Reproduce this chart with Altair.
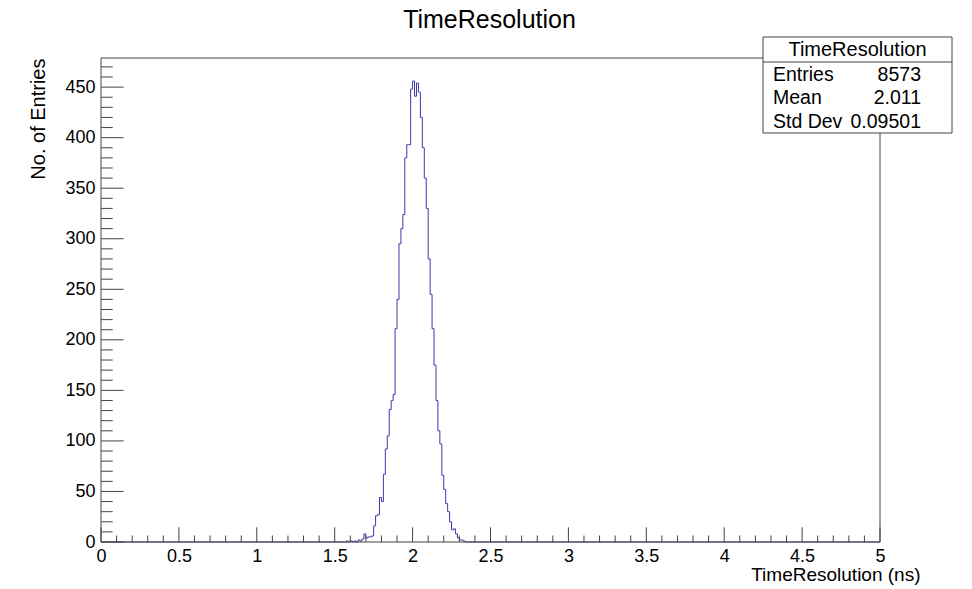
import altair as alt
import pandas as pd

# ---------------- data ----------------
BIN_WIDTH = 0.0125          # 400 bins on [0, 5]
N_BINS = 400
FIRST_BIN = 126             # index of first listed bin (x = 1.575)
counts = [1, 0, 1, 0, 1, 0, 2, 1,                       # 126-133
          3, 8, 4, 5, 5, 6,                             # 134-139
          16, 26, 27, 44, 40, 67, 92, 105, 131, 140,    # 140-149
          146, 211, 240, 295, 310, 324, 380, 393, 393, 448,  # 150-159
          456, 441, 454, 445, 420, 390, 360, 330, 280, 245,  # 160-169
          211, 175, 140, 110, 97, 66, 52, 38, 30, 20,   # 170-179
          12, 13, 8, 4, 2, 2, 1]                        # 180-186

x_major = [0, 0.5, 1, 1.5, 2, 2.5, 3, 3.5, 4, 4.5, 5]
x_minor = [round(i * 0.1, 1) for i in range(51) if i % 5 != 0]
y_major = [0, 50, 100, 150, 200, 250, 300, 350, 400, 450]
y_minor = [i * 10 for i in range(48) if i % 5 != 0]

plot_title = "TimeResolution"
x_title = "TimeResolution (ns)"
y_title = "No. of Entries"
stats_title = "TimeResolution"
stats_names = ["Entries", "Mean", "Std Dev"]
stats_values = ["8573", "2.011", "0.09501"]

# ---------------- build table ----------------
full = [0] * N_BINS
for k, c in enumerate(counts):
    full[FIRST_BIN + k] = c
edges = [i * BIN_WIDTH for i in range(N_BINS + 1)]
hist = pd.DataFrame({"x": edges, "y": full + [full[-1]]})

W, H = 779, 484
FONT = "Liberation Sans"
LINE = "#3a3aa8"
FRAME = "#444444"

x_scale = alt.Scale(domain=[0, 5], nice=False, zero=False)
y_scale = alt.Scale(domain=[0, 478.8], nice=False, zero=False)

x_axis = alt.Axis(values=x_major, format="~g", title=x_title, titleAlign="right",
                  titleX=819, titleY=38, titleBaseline="alphabetic",
                  labelPadding=5, labelFontSize=18, labelFlush=False,
                  grid=False, ticks=False, tickSize=0, domain=False,
                  titleFontSize=19, titleFontWeight="normal")
y_axis = alt.Axis(values=y_major, title=y_title, titleAngle=-90, titleAlign="right",
                  titleX=-57, titleY=0, titleBaseline="alphabetic",
                  labelPadding=6, labelFontSize=18, labelFlush=False,
                  grid=False, ticks=False, tickSize=0, domain=False,
                  titleFontSize=20, titleFontWeight="normal")

one = pd.DataFrame({"a": [0]})

hist_line = alt.Chart(hist).mark_line(
    interpolate="step-after", color=LINE, strokeWidth=1
).encode(
    x=alt.X("x:Q", scale=x_scale, axis=x_axis),
    y=alt.Y("y:Q", scale=y_scale, axis=y_axis),
)

def xticks(vals, length):
    return alt.Chart(pd.DataFrame({"v": vals})).mark_rule(color=FRAME, strokeWidth=1).encode(
        x=alt.X("v:Q", scale=x_scale, axis=x_axis),
        y=alt.value(H), y2=alt.value(H - length))

def yticks(vals, length):
    return alt.Chart(pd.DataFrame({"v": vals})).mark_rule(color=FRAME, strokeWidth=1).encode(
        y=alt.Y("v:Q", scale=y_scale, axis=y_axis),
        x=alt.value(0), x2=alt.value(length))

def hrule(x1, x2, y):
    return alt.Chart(one).mark_rule(color=FRAME, strokeWidth=1).encode(
        x=alt.value(x1), x2=alt.value(x2), y=alt.value(y))

def vrule(x, y1, y2):
    return alt.Chart(one).mark_rule(color=FRAME, strokeWidth=1).encode(
        x=alt.value(x), y=alt.value(y1), y2=alt.value(y2))

frame = [hrule(0, W, 0), hrule(0, W, H), vrule(0, 0, H), vrule(W, 0, H)]

# stats box
BX1, BX2, BY1, BY2 = 662, 851, -21, 75
box = alt.Chart(one).mark_rect(fill="white", stroke=FRAME, strokeWidth=1).encode(
    x=alt.value(BX1), x2=alt.value(BX2), y=alt.value(BY1), y2=alt.value(BY2))
sep = hrule(BX1, BX2, 4)

title_mark = alt.Chart(one).mark_text(text=plot_title, font=FONT, fontSize=25,
                                      align="center", baseline="alphabetic",
                                      color="black").encode(
    x=alt.value(W / 2 - 1), y=alt.value(-30))

texts = [alt.Chart(one).mark_text(text=stats_title, font=FONT, fontSize=20,
                                  align="center", baseline="middle", color="black").encode(
    x=alt.value((BX1 + BX2) / 2), y=alt.value(-8))]
row_y = [17, 40, 64]
for name, val, ry in zip(stats_names, stats_values, row_y):
    texts.append(alt.Chart(one).mark_text(text=name, font=FONT, fontSize=19.5,
                                          align="left", baseline="middle", color="black").encode(
        x=alt.value(672), y=alt.value(ry)))
    texts.append(alt.Chart(one).mark_text(text=val, font=FONT, fontSize=19.5,
                                          align="right", baseline="middle", color="black").encode(
        x=alt.value(820), y=alt.value(ry)))

chart = alt.layer(
    hist_line,
    xticks(x_major, 14.7), xticks(x_minor, 6.5),
    yticks(y_major, 22.7), yticks(y_minor, 11.7),
    *frame, box, sep, title_mark, *texts,
).properties(
    width=W, height=H,
    background="white",
    autosize=alt.AutoSizeParams(type="none"),
    padding={"left": 101, "top": 58, "right": 92, "bottom": 47},
).configure_view(stroke=None).configure_axis(
    labelFont=FONT, titleFont=FONT, labelColor="black", titleColor="black",
    titleFontWeight="normal", ticks=False, tickSize=0,
    domain=False, grid=False,
)

chart.save("out.html", embed_options={"renderer": "svg", "actions": False})
